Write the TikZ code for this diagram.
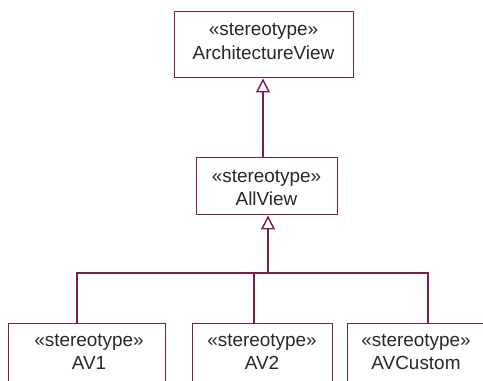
\documentclass[tikz,border=0pt]{standalone}
\usepackage{fontspec}
\setmainfont{Liberation Sans}
\usetikzlibrary{arrows.meta}
\definecolor{umlline}{RGB}{128,28,74}
\definecolor{umltext}{RGB}{40,40,40}
\tikzset{
  classbox/.style={draw=umlline, line width=1.1pt, fill=white, rectangle,
    inner sep=0pt, anchor=north west},
  lbl/.style={inner sep=0pt, anchor=base, text=umltext,
    font=\fontsize{14.2pt}{18pt}\selectfont},
  assoc/.style={draw=umlline, line width=1.1pt},
  gen/.style={assoc, -{Triangle[open, length=10.5pt, width=10.5pt, line width=1.1pt]}}
}
\begin{document}
\begin{tikzpicture}[x=0.75pt, y=-0.75pt]
  \useasboundingbox (0,0) rectangle (483,380);
  \clip (0,0) rectangle (483,380);
  \fill[white] (0,0) rectangle (483,380);

  % class boxes
  \node[classbox, minimum width=179*0.75pt, minimum height=66*0.75pt] (arch) at (174,11) {};
  \node[classbox, minimum width=141*0.75pt, minimum height=57*0.75pt] (allview) at (196,157) {};
  \node[classbox, minimum width=157*0.75pt, minimum height=80*0.75pt] (av1) at (8,323) {};
  \node[classbox, minimum width=140*0.75pt, minimum height=80*0.75pt] (av2) at (192,323) {};
  \node[classbox, minimum width=138*0.75pt, minimum height=80*0.75pt] (avc) at (347,323) {};

  % stereotype and class names
  \node[lbl] (arch-st) at (263.5,35) {«stereotype»};
  \node[lbl] (arch-nm) at (263.5,59) {ArchitectureView};
  \node[lbl] (all-st) at (266.5,182) {«stereotype»};
  \node[lbl] (all-nm) at (266.5,205.5) {AllView};
  \node[lbl] (av1-st) at (89,346) {«stereotype»};
  \node[lbl] (av1-nm) at (89,369) {AV1};
  \node[lbl] (av2-st) at (262,346) {«stereotype»};
  \node[lbl] (av2-nm) at (262,369) {AV2};
  \node[lbl] (avc-st) at (416,346) {«stereotype»};
  \node[lbl] (avc-nm) at (416,369) {AVCustom};

  % generalization AllView -> ArchitectureView
  \coordinate (up) at (263,157);
  \draw[gen] (up) -- (up |- arch.south);

  % shared generalization tree AV* -> AllView
  \coordinate (hub) at (268,273);
  \coordinate (d1) at (77,273);
  \coordinate (d2) at (254,273);
  \coordinate (d3) at (428,273);
  \draw[assoc] (d1 |- av1.north) -- (d1) -- (d3) -- (d3 |- avc.north);
  \draw[assoc] (d2 |- av2.north) -- (d2);
  \draw[gen] (hub) -- (hub |- allview.south);
\end{tikzpicture}
\end{document}
